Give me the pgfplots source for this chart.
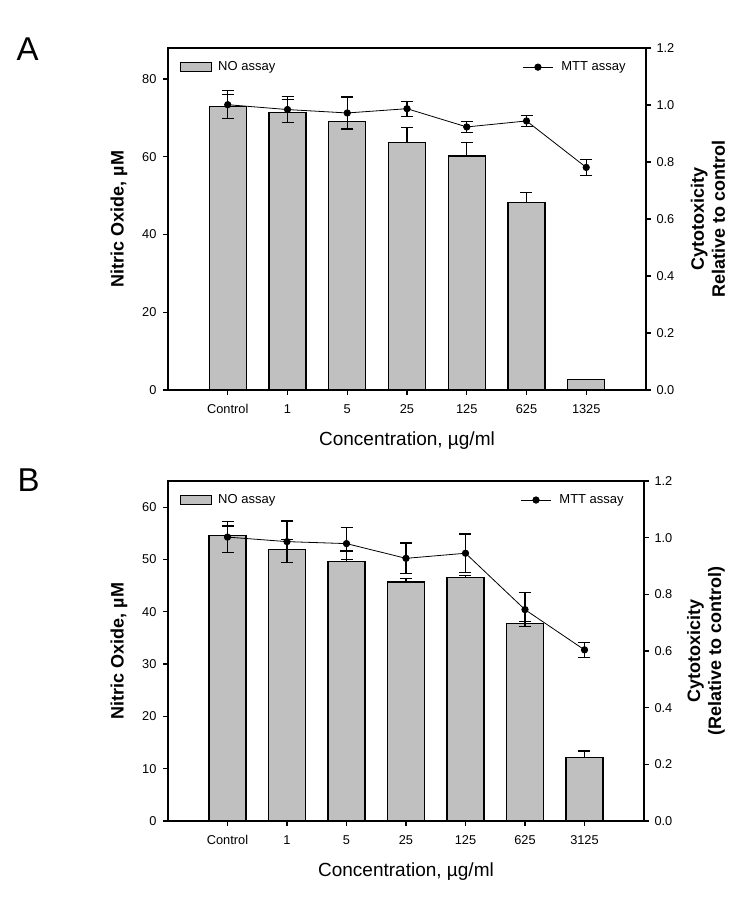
\documentclass[border=0pt]{standalone}
\usepackage{fontspec}
\setmainfont{Liberation Sans}
\usepackage{pgfplots}
\pgfplotsset{compat=1.18}
\usepackage{pgfplotstable}

\definecolor{barfill}{RGB}{192,192,192}

\pgfplotstableread{
x no noe mtt mtte
0 73.0 3.1 1.001 0.049
1 71.4 3.3 0.984 0.045
2 69.0 6.2 0.972 0.056
3 63.6 3.9 0.987 0.026
4 60.2 3.4 0.923 0.020
5 48.2 2.6 0.944 0.020
6 2.6  0.0 0.781 0.027
}\dataA

\pgfplotstableread{
x no noe mtt mtte
0 54.6 1.8 1.002 0.054
1 51.9 1.9 0.986 0.073
2 49.6 2.0 0.979 0.056
3 45.7 0.6 0.927 0.054
4 46.6 0.4 0.945 0.068
5 37.7 0.4 0.746 0.060
6 12.1 1.3 0.604 0.027
}\dataB

\pgfplotsset{
  common/.style={
    scale only axis, xmin=-1, xmax=7, ymin=0,
    tick align=outside, major tick length=5pt,
    axis line style={line width=1.2pt},
    every tick/.style={black, line width=1.2pt},
    tick label style={font=\fontsize{12.8}{14}\selectfont},
    /pgf/number format/assume math mode=true,
  },
  leftax/.style={
    common,
    xtick={0,...,6}, xtick pos=bottom, ytick pos=left,
    xticklabel style={yshift=-6pt},
    yticklabel style={xshift=-3pt},
    xlabel={Concentration, µg/ml},
    xlabel style={at={(axis description cs:0.5,0)}, yshift=-51pt, anchor=center, font=\fontsize{19}{22}\selectfont},
    ylabel={Nitric Oxide, µM},
    ylabel style={at={(axis description cs:0,0.5)}, yshift=49pt, anchor=center, font=\fontsize{18}{21}\selectfont\bfseries},
    legend style={at={(axis description cs:0.025,0.944)}, anchor=west, draw=none, fill=none, inner sep=0pt, font=\fontsize{13}{15}\selectfont},
    legend image code/.code={\draw[fill=barfill,draw=black,line width=1pt] (0pt,-4.5pt) rectangle (31pt,4.5pt); \path (35pt,0pt);},
  },
  rightax/.style={
    common,
    axis x line=none, axis y line*=right, ytick pos=right,
    ymax=1.2, ytick={0,0.2,0.4,0.6,0.8,1.0,1.2},
    yticklabel style={xshift=2pt, /pgf/number format/.cd, fixed, fixed zerofill, precision=1},
    ylabel style={at={(axis description cs:1,0.5)}, yshift=-62pt, anchor=center, align=center, font=\fontsize{18}{21}\selectfont\bfseries},
    legend style={at={(axis description cs:0.962,0.944)}, anchor=east, draw=none, fill=none, inner sep=0pt, font=\fontsize{13}{15}\selectfont},
    legend image code/.code={\draw[mark repeat=2,mark phase=2,#1] plot coordinates {(0pt,0pt) (15pt,0pt) (30pt,0pt)}; \path (36pt,0pt);},
  },
  barplot/.style={ybar, bar width=0.62, fill=barfill, draw=black, line width=1.2pt,
    error bars/.cd, y dir=plus, y explicit, error bar style={line width=1.2pt, black},
    error mark options={rotate=90, mark size=6pt, line width=1.2pt, black}},
  mttplot/.style={black, line width=0.8pt, mark=*, mark size=3.2pt, mark options={fill=black, solid},
    error bars/.cd, y dir=both, y explicit, error bar style={line width=1.2pt, black},
    error mark options={rotate=90, mark size=6pt, line width=1.2pt, black}},
}

\begin{document}
\begin{tikzpicture}
\useasboundingbox (0pt,0pt) rectangle (753pt,907pt);

% Panel A
\begin{axis}[leftax, at={(168pt,517pt)}, anchor=south west, width=478pt, height=342pt,
  ymax=88, ytick={0,20,40,60,80},
  xticklabels={Control,1,5,25,125,625,1325}]
\addplot[barplot] table[x=x, y=no, y error=noe] {\dataA};
\addlegendentry{NO assay}
\end{axis}
\begin{axis}[rightax, at={(168pt,517pt)}, anchor=south west, width=478pt, height=342pt,
  ylabel={Cytotoxicity\\Relative to control}]
\addplot[mttplot] table[x=x, y=mtt, y error=mtte] {\dataA};
\addlegendentry{MTT assay}
\end{axis}

% Panel B
\begin{axis}[leftax, at={(168pt,86pt)}, anchor=south west, width=476pt, height=340pt,
  ymax=65, ytick={0,10,20,30,40,50,60},
  xticklabels={Control,1,5,25,125,625,3125}]
\addplot[barplot] table[x=x, y=no, y error=noe] {\dataB};
\addlegendentry{NO assay}
\end{axis}
\begin{axis}[rightax, at={(168pt,86pt)}, anchor=south west, width=476pt, height=340pt,
  ylabel={Cytotoxicity\\(Relative to control)}]
\addplot[mttplot] table[x=x, y=mtt, y error=mtte] {\dataB};
\addlegendentry{MTT assay}
\end{axis}

\node[anchor=base west, font=\fontsize{33}{36}\selectfont] at (13pt,846pt) {A};
\node[anchor=base west, font=\fontsize{33}{36}\selectfont] at (14pt,415pt) {B};
\end{tikzpicture}
\end{document}
